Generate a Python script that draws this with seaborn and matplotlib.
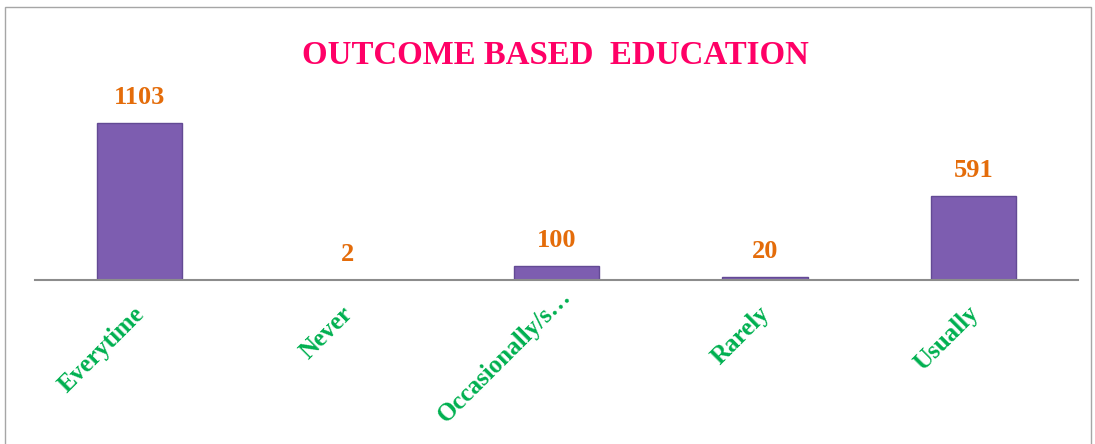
import matplotlib
matplotlib.use("Agg")
import matplotlib.pyplot as plt
import matplotlib.transforms as mtransforms
import seaborn as sns
import pandas as pd
from matplotlib.patches import Rectangle

categories = ["Everytime", "Never", "Occasionally/s\u2026", "Rarely", "Usually"]
values = [1103, 2, 100, 20, 591]
title = "OUTCOME BASED  EDUCATION"

sns.set_theme(style="white")
plt.rcParams['font.family'] = ['Liberation Serif', 'DejaVu Serif']

df = pd.DataFrame({"cat": categories, "val": values})

fig = plt.figure(figsize=(10.95, 4.44), dpi=100)
ax = fig.add_axes([35/1095, 1 - 280/444, 1043/1095, 250/444])

sns.barplot(data=df, x="cat", y="val", ax=ax, color="#7D5DB0", width=0.41,
            saturation=1, edgecolor="#634A94", linewidth=1.0)

ax.set_xlim(-0.5, 4.5)
ax.set_ylim(0, 250/157*1103)
for s in ["top", "right", "left"]:
    ax.spines[s].set_visible(False)
ax.spines["bottom"].set_color("#8C8C8C")
ax.spines["bottom"].set_linewidth(1.5)
ax.set_yticks([])
ax.set_xlabel("")
ax.set_ylabel("")
ax.tick_params(axis="x", length=0, pad=16)
ax.set_xticks(range(len(categories)))
ax.set_xticklabels(categories, rotation=45, ha="right", va="top",
                   rotation_mode="anchor", color="#00B050",
                   fontsize=18, fontweight="bold")

for i, lab in enumerate(ax.get_xticklabels()):
    dx, dy = (-7, 0)
    if i == 2:
        dx, dy = (3, 17)
    lab.set_transform(lab.get_transform() +
                      mtransforms.ScaledTranslation(dx/100, dy/100, fig.dpi_scale_trans))

for i, v in enumerate(values):
    ax.annotate(str(v), (i, v), xytext=(0, 10), textcoords="offset points",
                ha="center", va="bottom", color="#E46C0A",
                fontsize=19, fontweight="bold")

fig.text(555/1095, 1 - 55/444, title, ha="center", va="center",
         color="#FF0066", fontsize=23.7, fontweight="bold")

fig.patches.append(Rectangle((5/1095, -0.01), 1086/1095, 1 - 7/444 + 0.01,
                             transform=fig.transFigure, fill=False,
                             edgecolor="#A6A6A6", linewidth=1.0))

fig.savefig("out.png", dpi=100)
